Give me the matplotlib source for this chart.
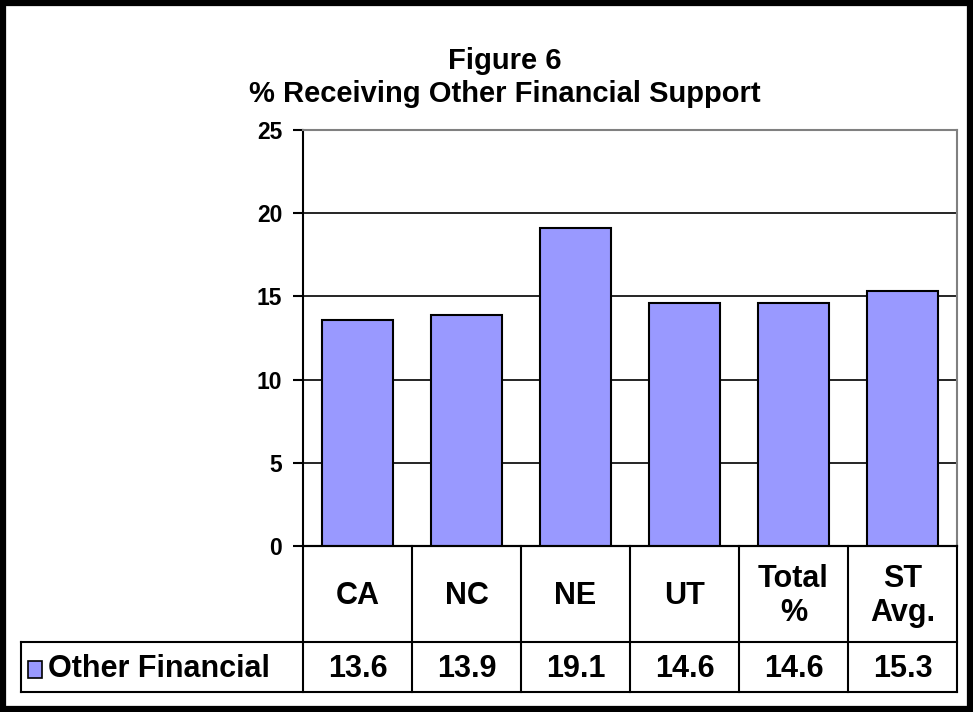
import numpy as np
import matplotlib.pyplot as plt
from matplotlib.patches import Rectangle

plt.rcParams['font.family'] = ['Liberation Sans', 'DejaVu Sans']
plt.rcParams['font.weight'] = 'bold'

# Datos
categorias = ['CA', 'NC', 'NE', 'UT', 'Total\n%', 'ST\nAvg.']
valores = [13.6, 13.9, 19.1, 14.6, 14.6, 15.3]
serie = 'Other Financial'
y_ticks = [0, 5, 10, 15, 20, 25]

W, H = 973, 712
fig = plt.figure(figsize=(W / 100, H / 100), dpi=100)

# Geometria en pixeles
x0, x1 = 303, 957          # area del grafico / tabla
y_top, y_zero = 130, 546   # 25 y 0
y_row1, y_row2 = 642, 692  # filas de la tabla
x_leg = 21
col_w = (x1 - x0) / len(categorias)

ax = fig.add_axes([x0 / W, 1 - y_zero / H, (x1 - x0) / W, (y_zero - y_top) / H])
x = np.arange(len(categorias))
ax.bar(x, valores, width=0.66, color='#9999FF', edgecolor='black', linewidth=1.5, zorder=3)
ax.set_xlim(-0.5, len(categorias) - 0.5)
ax.set_ylim(0, 25)
ax.set_yticks(y_ticks)
ax.set_yticklabels([str(t) for t in y_ticks], fontsize=16.5, fontweight='bold')
ax.set_xticks([])
for t in y_ticks[1:-1]:
    ax.axhline(t, color='black', linewidth=1.2, zorder=1)
ax.tick_params(axis='y', direction='out', length=7, width=1.5, pad=8)
for s in ['left', 'bottom']:
    ax.spines[s].set_color('black')
    ax.spines[s].set_linewidth(1.5)
for s in ['top', 'right']:
    ax.spines[s].set_color('#808080')
    ax.spines[s].set_linewidth(1.5)

# Capa superior en pixeles para titulo, tabla y borde
ov = fig.add_axes([0, 0, 1, 1], zorder=5)
ov.set_xlim(0, W)
ov.set_ylim(H, 0)
ov.axis('off')
ov.patch.set_alpha(0)

ov.text(505, 61, 'Figure 6', ha='center', va='center', fontsize=21, fontweight='bold')
ov.text(505, 94, '% Receiving Other Financial Support', ha='center', va='center',
        fontsize=21, fontweight='bold')

lw = 1.5
ov.plot([x0, x1], [y_zero, y_zero], color='black', lw=lw)
ov.plot([x_leg, x1], [y_row1, y_row1], color='black', lw=lw)
ov.plot([x_leg, x1], [y_row2, y_row2], color='black', lw=lw)
ov.plot([x_leg, x_leg], [y_row1, y_row2], color='black', lw=lw)
for i in range(len(categorias) + 1):
    xc = x0 + i * col_w
    ov.plot([xc, xc], [y_zero, y_row2], color='black', lw=lw)

for i, (cat, val) in enumerate(zip(categorias, valores)):
    xc = x0 + (i + 0.5) * col_w
    ov.text(xc, (y_zero + y_row1) / 2 + 2, cat, ha='center', va='center',
            fontsize=22, fontweight='bold', linespacing=1.15)
    ov.text(xc, (y_row1 + y_row2) / 2 + 2, f'{val:.1f}', ha='center', va='center',
            fontsize=22, fontweight='bold')

# Leyenda en la tabla
ov.add_patch(Rectangle((28, 661), 14, 17, facecolor='#9999FF', edgecolor='black', lw=1.2))
ov.text(48, (y_row1 + y_row2) / 2 + 2, serie, ha='left', va='center',
        fontsize=22, fontweight='bold')

# Borde exterior
ov.add_patch(Rectangle((3, 3), W - 6, H - 6, facecolor='none', edgecolor='black', lw=4.5))

fig.savefig('out.png', dpi=100)
